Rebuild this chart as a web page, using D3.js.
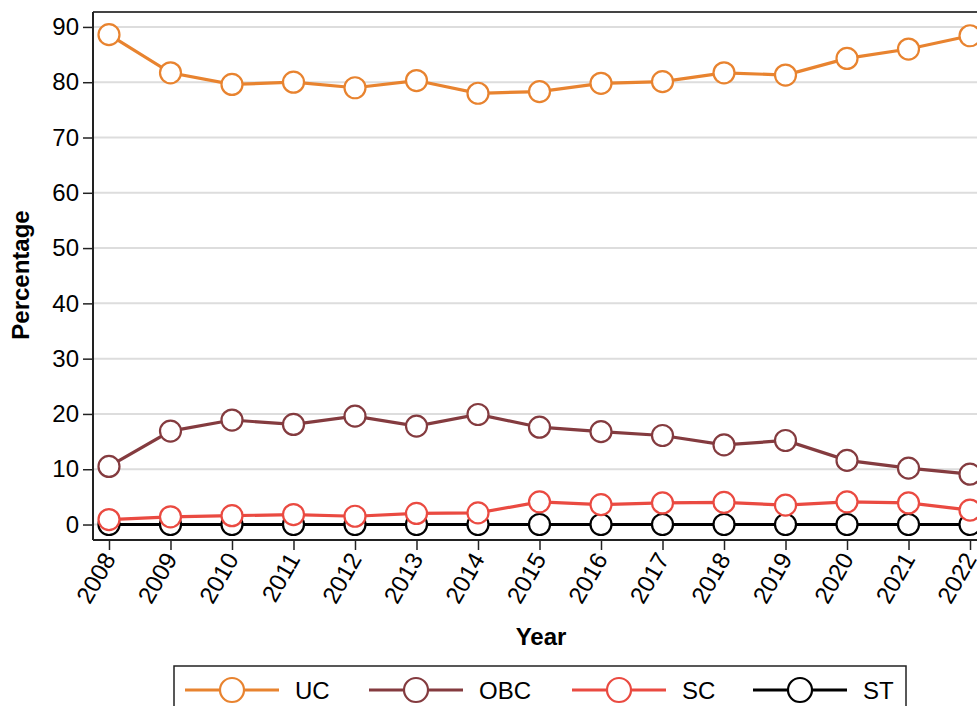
<!DOCTYPE html>
<html>
<head>
<meta charset="utf-8">
<script src="https://cdn.jsdelivr.net/npm/d3@7"></script>
<style>
  body { margin: 0; background: #fff; }
  svg { font-family: "Liberation Sans", Arial, sans-serif; }
</style>
</head>
<body>
<div id="chart"></div>
<script>
// data
const years = [2008, 2009, 2010, 2011, 2012, 2013, 2014, 2015, 2016, 2017, 2018, 2019, 2020, 2021, 2022];
const uc  = [88.6, 81.7, 79.6, 80.0, 79.0, 80.3, 78.0, 78.3, 79.8, 80.1, 81.7, 81.3, 84.3, 86.0, 88.4];
const obc = [10.5, 16.9, 18.9, 18.1, 19.6, 17.8, 19.9, 17.6, 16.8, 16.1, 14.4, 15.2, 11.6, 10.2, 9.1];
const sc  = [0.9, 1.4, 1.6, 1.8, 1.5, 2.0, 2.1, 4.1, 3.6, 3.9, 4.0, 3.5, 4.1, 3.9, 2.6];
const st  = [0, 0, 0, 0, 0, 0, 0, 0, 0, 0, 0, 0, 0, 0, 0];
const yTicks = [0, 10, 20, 30, 40, 50, 60, 70, 80, 90];

const seriesNames = ["UC", "OBC", "SC", "ST"];
const seriesColors = ["#E8832F", "#843B3F", "#EA4A41", "#000000"];
const series = [uc, obc, sc, st].map((vals, i) => ({
    name: seriesNames[i],
    color: seriesColors[i],
    values: years.map((y, j) => ({ year: y, v: vals[j] }))
}));

const width = 977, height = 706;
const plotLeft = 93, plotTop = 12, plotBottom = 540;

const svg = d3.select("#chart").append("svg")
    .attr("width", width)
    .attr("height", height);

const x = d3.scaleLinear()
    .domain([2007.74, 2022.26])
    .range([plotLeft, 986]);

const y = d3.scaleLinear()
    .domain([-2.8, 92.7])
    .range([plotBottom, plotTop]);

// gridlines
svg.append("g")
    .selectAll("line")
    .data(yTicks)
    .enter()
    .append("line")
    .attr("x1", plotLeft)
    .attr("x2", width)
    .attr("y1", d => y(d))
    .attr("y2", d => y(d))
    .attr("stroke", "#dddddd")
    .attr("stroke-width", 2);

// frame: top border
svg.append("line")
    .attr("x1", plotLeft).attr("x2", width)
    .attr("y1", plotTop).attr("y2", plotTop)
    .attr("stroke", "#444").attr("stroke-width", 2);

// y axis
const yAxis = svg.append("g")
    .attr("transform", `translate(${plotLeft},0)`)
    .call(d3.axisLeft(y).tickValues(yTicks).tickSize(10).tickPadding(4).tickSizeOuter(0));
yAxis.select(".domain").attr("d", `M0,${plotTop}V${plotBottom}`).attr("stroke", "#222").attr("stroke-width", 2);
yAxis.selectAll(".tick line").attr("stroke", "#222").attr("stroke-width", 1.5);
yAxis.selectAll(".tick text").attr("font-size", "24px").attr("fill", "#000");

// x axis
const xAxis = svg.append("g")
    .attr("transform", `translate(0,${plotBottom})`)
    .call(d3.axisBottom(x).tickValues(years).tickFormat(d3.format("d")).tickSize(10).tickSizeOuter(0));
xAxis.select(".domain").attr("d", `M${plotLeft},0H${width}`).attr("stroke", "#222").attr("stroke-width", 2);
xAxis.selectAll(".tick line").attr("stroke", "#222").attr("stroke-width", 1.5);
xAxis.selectAll(".tick text")
    .attr("font-size", "24px")
    .attr("fill", "#000")
    .attr("text-anchor", "end")
    .attr("dy", null)
    .attr("y", 0)
    .attr("transform", "translate(7,19) rotate(-60)");

// axis titles
svg.append("text")
    .attr("transform", `translate(29,275) rotate(-90)`)
    .attr("text-anchor", "middle")
    .attr("font-size", "24px")
    .attr("font-weight", "bold")
    .text("Percentage");

svg.append("text")
    .attr("x", 541)
    .attr("y", 645)
    .attr("text-anchor", "middle")
    .attr("font-size", "24px")
    .attr("font-weight", "bold")
    .text("Year");

// lines + markers, ST drawn first so UC ends up on top
const line = d3.line().x(d => x(d.year)).y(d => y(d.v));
const plot = svg.append("g");
series.slice().reverse().forEach(s => {
    const g = plot.append("g");
    g.append("path")
        .datum(s.values)
        .attr("d", line)
        .attr("fill", "none")
        .attr("stroke", s.color)
        .attr("stroke-width", 3.2);
    g.selectAll("circle")
        .data(s.values)
        .enter()
        .append("circle")
        .attr("cx", d => x(d.year))
        .attr("cy", d => y(d.v))
        .attr("r", 10.5)
        .attr("fill", "#fff")
        .attr("stroke", s.color)
        .attr("stroke-width", 2.2);
});

// legend
const legend = svg.append("g");
legend.append("rect")
    .attr("x", 174).attr("y", 666)
    .attr("width", 732).attr("height", 60)
    .attr("fill", "#fff")
    .attr("stroke", "#222")
    .attr("stroke-width", 1.5);

const legendX = [185, 369, 572, 753];
series.forEach((s, i) => {
    const lx = legendX[i];
    const g = legend.append("g").attr("transform", `translate(${lx},690)`);
    g.append("line")
        .attr("x1", 0).attr("x2", 94)
        .attr("stroke", s.color).attr("stroke-width", 3.2);
    g.append("circle")
        .attr("cx", 47).attr("r", 12)
        .attr("fill", "#fff")
        .attr("stroke", s.color).attr("stroke-width", 2.2);
    g.append("text")
        .attr("x", 110)
        .attr("y", 9)
        .attr("font-size", "24px")
        .text(s.name);
});
</script>
</body>
</html>
